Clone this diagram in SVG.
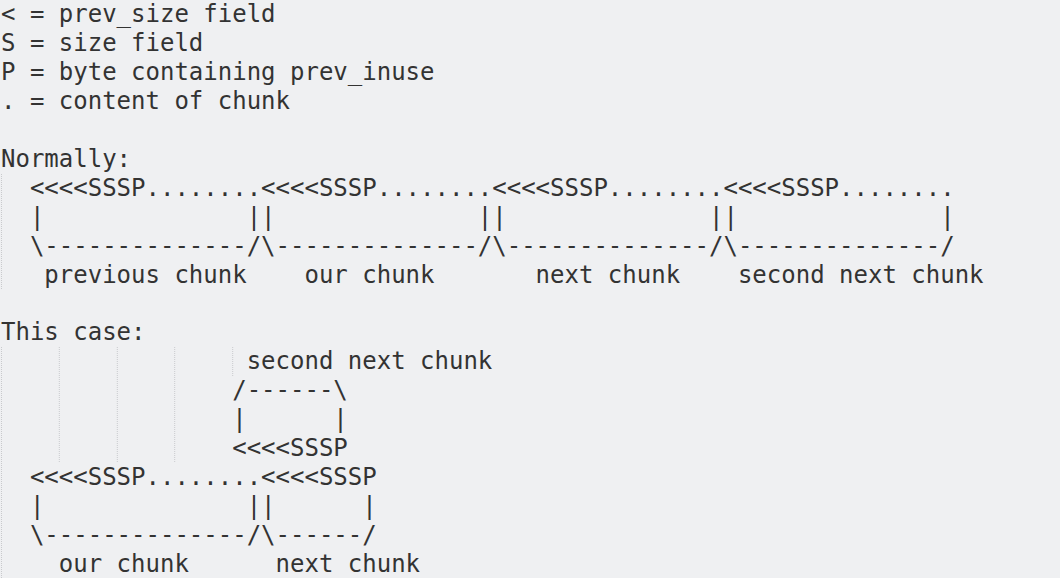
<svg xmlns="http://www.w3.org/2000/svg" width="1060" height="578" viewBox="0 0 1060 578">
<style>
.t{font-family:"DejaVu Sans Mono","Liberation Mono",monospace;font-size:24px;fill:#333333;white-space:pre}
.g{stroke:#c9cacd;stroke-width:1;stroke-dasharray:1 1;fill:none}
</style>
<rect width="1060" height="578" fill="#eff0f2"/>
<g id="guides">
<line class="g" x1="1.5" y1="174" x2="1.5" y2="289"/>
<line class="g" x1="1.5" y1="347" x2="1.5" y2="578"/>
<line class="g" x1="59.3" y1="347" x2="59.3" y2="463"/>
<line class="g" x1="117.3" y1="347" x2="117.3" y2="463"/>
<line class="g" x1="174.7" y1="347" x2="174.7" y2="463"/>
<line class="g" x1="232.7" y1="347" x2="232.7" y2="376"/>
</g>
<g id="legend">
<text class="t" x="1" y="22" xml:space="preserve">&lt; = prev_size field</text>
<text class="t" x="1" y="50.95" xml:space="preserve">S = size field</text>
<text class="t" x="1" y="79.9" xml:space="preserve">P = byte containing prev_inuse</text>
<text class="t" x="1" y="108.85" xml:space="preserve">. = content of chunk</text>
</g>
<g id="normally">
<text class="t" x="1" y="166.75" xml:space="preserve">Normally:</text>
<text class="t" x="1" y="195.7" xml:space="preserve">  &lt;&lt;&lt;&lt;SSSP........&lt;&lt;&lt;&lt;SSSP........&lt;&lt;&lt;&lt;SSSP........&lt;&lt;&lt;&lt;SSSP........</text>
<text class="t" x="1" y="224.65" xml:space="preserve">  |              ||              ||              ||              |</text>
<text class="t" x="1" y="253.6" xml:space="preserve">  \--------------/\--------------/\--------------/\--------------/</text>
<text class="t" x="1" y="282.55" xml:space="preserve">   previous chunk    our chunk       next chunk    second next chunk</text>
</g>
<g id="this-case">
<text class="t" x="1" y="340.45" xml:space="preserve">This case:</text>
<text class="t" x="1" y="369.4" xml:space="preserve">                 second next chunk</text>
<text class="t" x="1" y="398.35" xml:space="preserve">                /------\</text>
<text class="t" x="1" y="427.3" xml:space="preserve">                |      |</text>
<text class="t" x="1" y="456.25" xml:space="preserve">                &lt;&lt;&lt;&lt;SSSP</text>
<text class="t" x="1" y="485.2" xml:space="preserve">  &lt;&lt;&lt;&lt;SSSP........&lt;&lt;&lt;&lt;SSSP</text>
<text class="t" x="1" y="514.15" xml:space="preserve">  |              ||      |</text>
<text class="t" x="1" y="543.1" xml:space="preserve">  \--------------/\------/</text>
<text class="t" x="1" y="572.05" xml:space="preserve">    our chunk      next chunk</text>
</g>
</svg>
